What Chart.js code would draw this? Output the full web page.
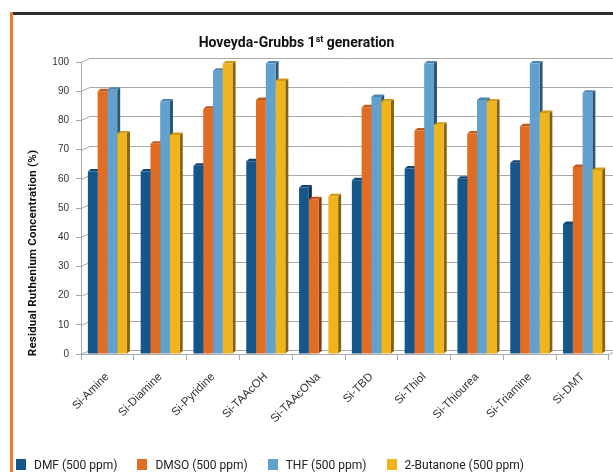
<!DOCTYPE html>
<html>
<head>
<meta charset="utf-8">
<script src="https://cdn.jsdelivr.net/npm/chart.js@4.4.0/dist/chart.umd.min.js"></script>
<style>
  html, body { margin: 0; padding: 0; background: #fff; overflow: hidden; }
  #wrap { position: relative; width: 613px; height: 474px; }
  #chart { position: absolute; left: 0; top: 0; }
  .topline { position: absolute; left: 10px; top: 12px; width: 603px; height: 3px; background: #2e2e2e; }
  .leftline { position: absolute; left: 10px; top: 12px; width: 3px; height: 460px; background: #f07c30; }
  #title { position: absolute; left: 0; top: 34px; width: 593px; text-align: center;
           font: bold 14px Roboto, sans-serif; line-height: 16px; color: #111; }
  #title sup { font-size: 9px; vertical-align: 5px; line-height: 0; }
  #ytitle { position: absolute; left: -98px; top: 246px; width: 260px; height: 14px; line-height: 14px;
            text-align: center; transform: rotate(-90deg); font: bold 11.5px Roboto, sans-serif;
            letter-spacing: 0.2px; color: #111; }
  #legend { position: absolute; left: 16px; top: 458px; display: flex; gap: 20px;
            font: 12px Roboto, sans-serif; color: #222; line-height: 14px; }
  #legend span.box { display: inline-block; width: 10px; height: 11px; margin-right: 8px; vertical-align: -1px; }
</style>
</head>
<body>
<div id="wrap">
  <canvas id="chart" width="613" height="474"></canvas>
  <div class="topline"></div>
  <div class="leftline"></div>
  <div id="title">Hoveyda-Grubbs 1<sup>st</sup> generation</div>
  <div id="ytitle">Residual Ruthenium Concentration (%)</div>
  <div id="legend"></div>
</div>
<script>
// categories (scavengers)
const categories = ['Si-Amine', 'Si-Diamine', 'Si-Pyridine', 'Si-TAAcOH', 'Si-TAAcONa',
                    'Si-TBD', 'Si-Thiol', 'Si-Thiourea', 'Si-Triamine', 'Si-DMT'];
const seriesNames = ['DMF (500 ppm)', 'DMSO (500 ppm)', 'THF (500 ppm)', '2-Butanone (500 ppm)'];

// residual ruthenium (%) per solvent
const dmf      = [62.5, 62.5, 64.5, 66, 57, 59.5, 63.5, 60, 65.5, 44.5];
const dmso     = [90, 72, 84, 87, 53, 84.5, 76.5, 75.5, 78, 64];
const thf      = [90.5, 86.5, 97, 99.5, null, 88, 99.5, 87, 99.5, 89.5];
const butanone = [75.5, 75, 99.5, 93.5, 54, 86.5, 78.5, 86.5, 82.5, 63];

const yTicks = [0, 10, 20, 30, 40, 50, 60, 70, 80, 90, 100];

const fronts = ['#15568a', '#e06d23', '#62a0cd', '#f0b41d'];
const sides  = ['#0a2d4a', '#7f3b0d', '#2c5676', '#86640f'];
const tops   = ['#104674', '#c4581a', '#4b86b2', '#d39a12'];

// little 3d look: back wall grid + bar side/top faces
const WX = 9, WY = -4;   // back wall offset
const D = 3, DY = 2.5;   // bar depth
const depth3d = {
  id: 'depth3d',
  beforeDatasetsDraw(chart) {
    const ctx = chart.ctx;
    const a = chart.chartArea;
    const y = chart.scales.y;
    ctx.save();
    ctx.strokeStyle = '#a9a9a9';
    ctx.lineWidth = 1;
    yTicks.forEach(v => {
      const py = Math.round(y.getPixelForValue(v)) + 0.5;
      ctx.beginPath();
      ctx.moveTo(a.left, py);
      ctx.lineTo(a.left + WX, py + WY);
      ctx.lineTo(chart.width, py + WY);
      ctx.stroke();
    });
    // right end of floor
    const fy = Math.round(a.bottom) + 0.5;
    ctx.beginPath();
    ctx.moveTo(a.right, fy);
    ctx.lineTo(a.right + WX, fy + WY);
    ctx.stroke();

    const metas = chart.data.datasets.map((d, j) => chart.getDatasetMeta(j));
    for (let i = 0; i < categories.length; i++) {
      metas.forEach((meta, j) => {
        const v = chart.data.datasets[j].data[i];
        if (v === null || v === undefined) return;
        const bar = meta.data[i];
        const { x, y: top, base, width } = bar.getProps(['x', 'y', 'base', 'width'], true);
        const l = x - width / 2, r = x + width / 2;
        ctx.fillStyle = sides[j];
        ctx.beginPath();
        ctx.moveTo(r, top); ctx.lineTo(r + D, top - DY);
        ctx.lineTo(r + D, base - DY); ctx.lineTo(r, base);
        ctx.closePath(); ctx.fill();
        ctx.fillStyle = tops[j];
        ctx.beginPath();
        ctx.moveTo(l, top); ctx.lineTo(l + D, top - DY);
        ctx.lineTo(r + D, top - DY); ctx.lineTo(r, top);
        ctx.closePath(); ctx.fill();
      });
    }
    ctx.restore();
  }
};

const seriesData = [dmf, dmso, thf, butanone];
const datasets = seriesNames.map((name, j) => ({
  label: name,
  data: seriesData[j],
  backgroundColor: fronts[j],
  borderWidth: 0,
  categoryPercentage: 0.74,
  barPercentage: 1.0
}));

const tickFont = { family: 'Liberation Sans, Arial, sans-serif', size: 10 };

const ctx = document.getElementById('chart').getContext('2d');
const myChart = new Chart(ctx, {
  type: 'bar',
  data: { labels: categories, datasets: datasets },
  options: {
    responsive: false,
    animation: false,
    layout: { padding: { left: 16, right: 4, top: 62, bottom: 20 } },
    plugins: {
      legend: { display: false },
      title: { display: false },
      tooltip: { enabled: false }
    },
    scales: {
      x: {
        grid: { drawOnChartArea: false, tickLength: 6, color: '#a9a9a9', offset: true },
        border: { color: '#a9a9a9' },
        ticks: { minRotation: 45, maxRotation: 45, autoSkip: false, color: '#333',
                 font: { family: tickFont.family, size: 11.5 }, padding: 10 },
        afterFit(scale) { scale.height = 100; }
      },
      y: {
        min: 0, max: 100,
        grid: { drawOnChartArea: false, tickLength: 5, color: '#a9a9a9' },
        border: { color: '#a9a9a9' },
        ticks: { stepSize: 10, color: '#333', font: tickFont, padding: 7 },
        afterFit(scale) { scale.width = 65; }
      }
    }
  },
  plugins: [depth3d]
});

// legend built from the datasets
const legend = document.getElementById('legend');
seriesNames.forEach((name, j) => {
  const item = document.createElement('div');
  item.innerHTML = '<span class="box" style="background:' + fronts[j] + '"></span>' + name;
  legend.appendChild(item);
});
</script>
</body>
</html>
